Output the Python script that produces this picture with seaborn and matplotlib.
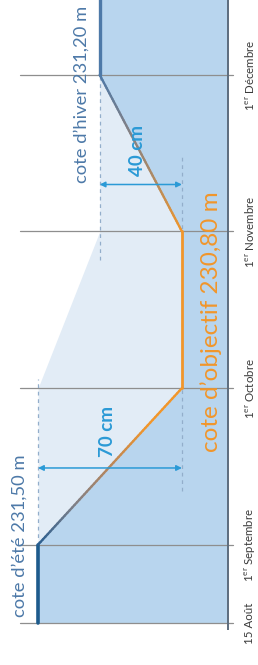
import numpy as np
import pandas as pd
import matplotlib
matplotlib.use("Agg")
import matplotlib.pyplot as plt
import seaborn as sns
from matplotlib.collections import LineCollection
from matplotlib.colors import LinearSegmentedColormap

# dates (position in months since 15 August) and lake level (m)
dates = ["15 Août", "1er Septembre", "1er Octobre", "1er Novembre", "1er Décembre"]
mois = [0.0, 0.5, 1.5, 2.5, 3.5, 4.0]
cote = [231.50, 231.50, 230.80, 230.80, 231.20, 231.20]

# upper bound of the light zone (max level allowed)
mois_borne = [0.5, 1.5, 2.5, 3.5]
cote_borne = [231.50, 231.50, 231.20, 231.20]
cote_fond = 230.576

cote_ete = 231.50
cote_hiver = 231.20
cote_objectif = 230.80

BLEU_FONCE = "#1d5b8c"
BLEU_ACIER = "#4d79a8"
ORANGE = "#f1962b"
CYAN = "#2b9ad6"

sns.set_style("white")
plt.rcParams["font.family"] = ["Lato", "DejaVu Sans"]
plt.rcParams["mathtext.fontset"] = "custom"
plt.rcParams["mathtext.rm"] = "Lato"

df = pd.DataFrame({"mois": mois, "cote": cote})

fig = plt.figure(figsize=(2.58, 6.65), dpi=100)
ax = fig.add_axes([0, 0, 1, 1])
ax.set_xlim(231.685, 230.43)
ax.set_ylim(-0.268, 3.978)
ax.axis("off")

# water fills
ax.fill_betweenx(df["mois"], df["cote"], cote_fond, color="#b8d5ee", lw=0)
niveau_borne = np.interp(mois_borne, mois, cote)
ax.fill_betweenx(mois_borne, cote_borne, niveau_borne, color="#e2ecf6", lw=0)

# date grid lines
for t in mois[:5]:
    ax.axhline(t, xmin=0.0775, xmax=0.903, color="#8e8e8e", lw=0.9, zorder=2)
ax.vlines(cote_fond, -0.045, 4.0, color="#5d6d7e", lw=1.4, zorder=3)

# dashed reference lines
dash = dict(color="#93aecb", lw=0.9, linestyles=(0, (3, 3)), zorder=2)
ax.vlines(cote_ete, 0.5, 1.56, **dash)
ax.vlines(cote_hiver, 2.32, 3.5, **dash)
ax.vlines(cote_objectif, 0.84, 2.98, **dash)

# flat segments
sns.lineplot(data=df.iloc[0:2], x="cote", y="mois", orient="y", sort=False,
             estimator=None, color=BLEU_FONCE, lw=2.6, ax=ax, zorder=5)
sns.lineplot(data=df.iloc[2:4], x="cote", y="mois", orient="y", sort=False,
             estimator=None, color=ORANGE, lw=2.0, ax=ax, zorder=5)
sns.lineplot(data=df.iloc[4:6], x="cote", y="mois", orient="y", sort=False,
             estimator=None, color=BLEU_ACIER, lw=2.4, ax=ax, zorder=5)


def pente(i0, i1, couleurs, lw):
    cmap = LinearSegmentedColormap.from_list("p", couleurs)
    s = np.linspace(0, 1, 60)
    xs = cote[i0] + (cote[i1] - cote[i0]) * s
    ys = mois[i0] + (mois[i1] - mois[i0]) * s
    pts = np.column_stack([xs, ys]).reshape(-1, 1, 2)
    segs = np.concatenate([pts[:-1], pts[1:]], axis=1)
    lc = LineCollection(segs, colors=cmap(s[:-1]), lw=lw, zorder=5,
                        capstyle="round")
    ax.add_collection(lc)


pente(1, 2, ["#2a5e90", "#7f8088", "#b9865a", ORANGE, ORANGE], 1.7)
pente(3, 4, [ORANGE, "#b08a62", "#7f8088", BLEU_ACIER], 1.7)

# arrows
fl = dict(arrowstyle="<|-|>", color=CYAN, lw=1.1, shrinkA=0, shrinkB=0,
          mutation_scale=8)
ax.annotate("", xy=(cote_hiver, 2.80), xytext=(cote_objectif, 2.80),
            arrowprops=fl, zorder=6)
ax.annotate("", xy=(cote_ete, 0.99), xytext=(cote_objectif, 0.99),
            arrowprops=fl, zorder=6)
ax.text(231.014, 3.014, "40 cm", rotation=90, color=CYAN, fontsize=13.5,
        fontweight="bold", ha="center", va="center", zorder=7)
ax.text(231.160, 1.22, "70 cm", rotation=90, color=CYAN, fontsize=13.5,
        fontweight="bold", ha="center", va="center", zorder=7)

# level labels
ax.text(231.29, 3.378, "cote d\u2019hiver 231,20 m", rotation=90,
        color=BLEU_ACIER, fontsize=13.2, ha="center", va="center")
ax.text(231.59, 0.56, "cote d\u2019été 231,50 m", rotation=90,
        color=BLEU_ACIER, fontsize=13.2, ha="center", va="center")
ax.text(230.66, 1.925, "cote d\u2019objectif 230,80 m", rotation=90,
        color=ORANGE, fontsize=17.5, ha="center", va="center", zorder=7)

# date labels
etiquettes = [d.replace("1er", r"1$^{\rm er}$") for d in dates]
for t, lab in zip(mois[:5], etiquettes):
    ax.text(230.469, t, lab, rotation=90, color="#3a3a3a", fontsize=8.3,
            ha="center", va="center")

fig.savefig("out.png", dpi=100)
